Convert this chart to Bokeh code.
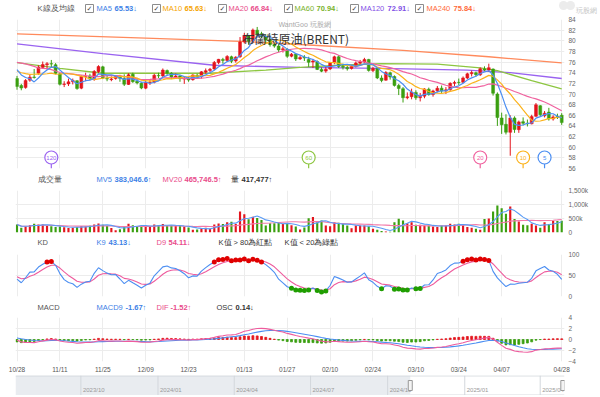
import numpy as np
import pandas as pd
from bokeh.plotting import figure
from bokeh.layouts import column
from bokeh.models import Range1d, FixedTicker, Label, ColumnDataSource
from bokeh.embed import file_html
from bokeh.resources import INLINE
from bokeh.core.properties import value

# ---------------- data ----------------
DATES = [
    "2024-10-28", "2024-10-29", "2024-10-30", "2024-10-31", "2024-11-01", "2024-11-04", "2024-11-05", "2024-11-06", "2024-11-07", "2024-11-08",
    "2024-11-11", "2024-11-12", "2024-11-13", "2024-11-14", "2024-11-15", "2024-11-18", "2024-11-19", "2024-11-20", "2024-11-21", "2024-11-22",
    "2024-11-25", "2024-11-26", "2024-11-27", "2024-11-28", "2024-11-29", "2024-12-02", "2024-12-03", "2024-12-04", "2024-12-05", "2024-12-06",
    "2024-12-09", "2024-12-10", "2024-12-11", "2024-12-12", "2024-12-13", "2024-12-16", "2024-12-17", "2024-12-18", "2024-12-19", "2024-12-20",
    "2024-12-23", "2024-12-24", "2024-12-26", "2024-12-27", "2024-12-30", "2024-12-31", "2025-01-02", "2025-01-03", "2025-01-06", "2025-01-07",
    "2025-01-08", "2025-01-09", "2025-01-10", "2025-01-13", "2025-01-14", "2025-01-15", "2025-01-16", "2025-01-17", "2025-01-20", "2025-01-21",
    "2025-01-22", "2025-01-23", "2025-01-24", "2025-01-27", "2025-01-28", "2025-01-29", "2025-01-30", "2025-01-31", "2025-02-03", "2025-02-04",
    "2025-02-05", "2025-02-06", "2025-02-07", "2025-02-10", "2025-02-11", "2025-02-12", "2025-02-13", "2025-02-14", "2025-02-17", "2025-02-18",
    "2025-02-19", "2025-02-20", "2025-02-21", "2025-02-24", "2025-02-25", "2025-02-26", "2025-02-27", "2025-02-28", "2025-03-03", "2025-03-04",
    "2025-03-05", "2025-03-06", "2025-03-07", "2025-03-10", "2025-03-11", "2025-03-12", "2025-03-13", "2025-03-14", "2025-03-17", "2025-03-18",
    "2025-03-19", "2025-03-20", "2025-03-21", "2025-03-24", "2025-03-25", "2025-03-26", "2025-03-27", "2025-03-28", "2025-03-31", "2025-04-01",
    "2025-04-02", "2025-04-03", "2025-04-04", "2025-04-07", "2025-04-08", "2025-04-09", "2025-04-10", "2025-04-11", "2025-04-14", "2025-04-15",
    "2025-04-16", "2025-04-17", "2025-04-21", "2025-04-22", "2025-04-23", "2025-04-24", "2025-04-25", "2025-04-28",
]
OPEN = [
    72.90, 71.60, 71.20, 72.60, 73.20, 73.90, 75.00, 75.50, 75.70, 75.50,
    73.80, 71.80, 71.90, 72.30, 72.50, 71.10, 73.30, 73.40, 72.90, 74.20,
    75.10, 72.90, 72.70, 72.90, 73.20, 72.90, 71.80, 73.70, 72.40, 72.00,
    71.10, 72.10, 72.20, 73.50, 73.40, 74.40, 73.90, 73.20, 73.40, 72.80,
    72.90, 72.70, 73.50, 73.30, 74.10, 74.40, 74.70, 75.90, 76.50, 76.30,
    77.00, 76.20, 77.00, 79.80, 81.00, 80.00, 82.00, 81.30, 80.80, 80.10,
    79.30, 79.00, 78.30, 78.40, 77.10, 77.50, 76.60, 76.90, 76.50, 76.00,
    76.10, 74.60, 74.30, 74.70, 75.90, 77.00, 75.20, 75.00, 74.80, 75.20,
    75.80, 76.00, 76.50, 74.40, 74.80, 73.00, 72.60, 74.00, 73.30, 71.60,
    71.00, 69.30, 69.50, 70.30, 69.30, 69.60, 70.90, 69.90, 70.60, 71.10,
    70.60, 70.80, 72.00, 72.20, 72.20, 73.00, 73.80, 74.00, 73.60, 74.70,
    74.50, 74.70, 70.00, 65.50, 64.30, 62.80, 65.50, 63.30, 64.80, 64.50,
    64.40, 65.80, 67.80, 65.90, 66.60, 65.30, 65.80, 66.00,
]
HIGH = [
    73.40, 71.90, 72.80, 73.60, 74.70, 75.40, 76.10, 76.00, 76.40, 75.80,
    73.90, 72.40, 72.90, 72.90, 72.60, 73.50, 74.00, 73.80, 74.50, 75.40,
    75.30, 73.40, 73.30, 73.50, 73.60, 73.70, 73.90, 74.00, 72.80, 72.30,
    72.60, 72.70, 73.80, 74.00, 74.80, 74.60, 74.10, 73.90, 73.60, 73.20,
    73.20, 73.70, 73.80, 74.30, 74.80, 74.90, 76.20, 76.60, 76.80, 77.30,
    77.20, 77.10, 80.70, 81.50, 81.10, 82.30, 82.60, 81.70, 81.20, 80.50,
    79.60, 79.40, 78.90, 78.60, 77.70, 77.60, 77.20, 77.30, 77.00, 76.60,
    76.30, 75.00, 75.10, 76.00, 77.20, 77.30, 75.70, 75.30, 75.40, 76.10,
    76.40, 76.80, 76.60, 75.10, 74.90, 73.50, 74.30, 74.20, 73.50, 71.90,
    71.30, 70.30, 71.00, 70.70, 70.20, 71.10, 71.20, 70.80, 71.50, 71.60,
    71.30, 72.20, 72.50, 72.90, 73.30, 74.00, 74.40, 74.20, 75.00, 75.20,
    75.70, 74.80, 70.30, 66.50, 66.20, 66.00, 65.80, 65.00, 65.60, 65.20,
    66.10, 68.30, 67.90, 66.80, 67.40, 66.00, 66.30, 66.40,
]
LOW = [
    70.80, 70.70, 71.00, 72.30, 72.90, 73.60, 74.80, 74.60, 74.90, 73.70,
    71.60, 71.30, 71.50, 71.80, 70.80, 70.90, 72.40, 72.60, 72.50, 73.90,
    72.80, 72.40, 72.40, 72.70, 72.30, 71.50, 71.70, 72.10, 71.80, 70.90,
    70.90, 71.70, 72.00, 73.00, 73.20, 73.60, 72.80, 72.90, 72.30, 71.90,
    72.30, 72.50, 73.00, 72.90, 73.80, 74.10, 74.50, 75.60, 75.70, 76.10,
    75.80, 75.90, 76.80, 79.50, 79.30, 79.60, 80.90, 80.50, 79.50, 78.90,
    78.70, 77.90, 77.80, 76.80, 76.90, 76.20, 76.40, 76.20, 75.10, 74.90,
    74.50, 74.10, 74.00, 74.50, 75.60, 74.90, 74.60, 74.40, 74.60, 75.00,
    75.50, 75.80, 74.20, 74.10, 72.80, 72.20, 72.50, 72.70, 71.40, 69.80,
    68.40, 69.00, 69.00, 68.90, 68.60, 69.20, 69.70, 69.50, 70.30, 70.20,
    70.00, 70.60, 71.50, 71.70, 72.00, 72.80, 73.30, 73.30, 73.40, 74.30,
    74.20, 69.70, 64.00, 62.50, 62.40, 58.40, 62.70, 62.70, 64.10, 63.90,
    64.30, 65.70, 65.80, 65.60, 65.00, 65.00, 65.30, 64.20,
]
CLOSE = [
    71.42, 71.12, 72.55, 73.16, 73.10, 75.08, 75.53, 75.69, 75.63, 73.87,
    71.83, 71.89, 72.28, 72.56, 71.04, 73.30, 73.31, 72.81, 74.23, 75.17,
    73.01, 72.81, 72.83, 73.28, 72.94, 71.83, 73.62, 72.31, 72.09, 71.12,
    72.14, 72.19, 73.52, 73.41, 74.49, 73.91, 73.19, 73.39, 72.88, 72.94,
    72.63, 73.58, 73.26, 74.17, 74.39, 74.64, 75.93, 76.51, 76.30, 77.05,
    76.16, 76.92, 79.76, 81.01, 79.92, 82.03, 81.29, 80.79, 80.15, 79.29,
    79.00, 78.29, 78.50, 77.08, 77.49, 76.58, 76.87, 76.76, 75.96, 76.20,
    74.61, 74.29, 74.66, 75.87, 77.00, 75.18, 75.02, 74.74, 75.22, 75.84,
    76.04, 76.48, 74.43, 74.78, 73.02, 72.53, 74.04, 73.18, 71.62, 71.04,
    69.30, 69.46, 70.36, 69.28, 69.56, 70.95, 69.88, 70.58, 71.07, 70.56,
    70.78, 72.00, 72.16, 72.16, 73.02, 73.79, 74.03, 73.63, 74.74, 74.49,
    74.95, 70.14, 65.58, 64.21, 62.82, 65.48, 63.33, 64.76, 64.50, 64.40,
    65.75, 67.96, 66.10, 66.40, 65.30, 65.70, 65.60, 64.63,
]
VOLUME = [
    285000, 170000, 220000, 260000, 310000, 285000, 285000, 240000, 225000, 200000,
    210000, 190000, 165000, 170000, 200000, 230000, 220000, 240000, 285000, 320000,
    280000, 230000, 160000, 80000, 120000, 230000, 310000, 260000, 210000, 230000,
    240000, 210000, 285000, 270000, 300000, 240000, 250000, 240000, 230000, 210000,
    180000, 100000, 110000, 140000, 170000, 130000, 290000, 320000, 300000, 370000,
    380000, 300000, 750000, 650000, 470000, 560000, 520000, 450000, 250000, 330000,
    330000, 340000, 300000, 330000, 260000, 210000, 110000, 180000, 510000, 550000,
    370000, 430000, 250000, 225000, 370000, 345000, 310000, 250000, 155000, 250000,
    250000, 250000, 225000, 130000, 95000, 50000, 40000, 30000, 370000, 490000,
    430000, 330000, 370000, 275000, 275000, 250000, 250000, 215000, 200000, 250000,
    250000, 310000, 285000, 310000, 260000, 200000, 170000, 130000, 100000, 480000,
    500000, 750000, 965000, 870000, 670000, 930000, 479697, 390000, 275000, 260000,
    310000, 250000, 170000, 370000, 300000, 420000, 407756, 417477,
]
# closes before the visible window (warm-up for the moving averages / MACD)
HIST_CLOSE = [
    73.75, 72.70, 72.69, 71.06, 71.84, 69.19, 70.61, 71.97, 71.61, 72.75,
    73.70, 73.65, 74.88, 74.49, 75.17, 75.17, 73.46, 71.60, 71.98, 71.77,
    73.56, 75.81, 77.62, 78.05, 80.93, 77.18, 76.58, 79.40, 79.04, 77.46,
    74.25, 74.22, 74.45, 73.06, 74.29, 76.04, 74.96, 74.38, 76.05,
]
# long moving averages (bar index -> value)
MA60_AT = [0, 10, 20, 45, 58, 66, 75, 85, 98, 108, 112, 120, 127]
MA60_VAL = [75.9, 74.8, 73.9, 73.9, 74.5, 75.0, 75.4, 75.7, 75.6, 74.9, 74.4, 72.5, 70.94]
MA120_AT = [0, 20, 46, 66, 85, 105, 115, 127]
MA120_VAL = [79.4, 77.6, 75.4, 75.0, 74.8, 74.5, 74.0, 72.91]
MA240_AT = [0, 30, 52, 66, 90, 110, 127]
MA240_VAL = [81.3, 80.5, 79.9, 79.3, 78.2, 77.0, 75.84]
# indicator read-outs shown in the panel headers of the picture
KD_READ = ["43.13↓", "54.11↓"]
MACD_READ = ["-1.67↑", "-1.52↑", "0.14↓"]

PRICE_TICKS = [56, 58, 60, 62, 64, 66, 68, 70, 72, 74, 76, 78, 80, 82, 84]
VOL_TICKS = [0, 500000, 1000000, 1500000]
VOL_TICK_LABELS = ["0", "500k", "1,000k", "1,500k"]
KD_TICKS = [0, 50, 100]
MACD_TICKS = [-4, -2, 0, 2, 4]
TICK_DATES = ["2024-10-28", "2024-11-11", "2024-11-25", "2024-12-09", "2024-12-23", "2025-01-13", "2025-01-27",
              "2025-02-10", "2025-02-24", "2025-03-10", "2025-03-24", "2025-04-07", "2025-04-28"]
NAV_QUARTERS = ["2023-10-01", "2024-01-01", "2024-04-01", "2024-07-01", "2024-10-01", "2025-01-01", "2025-04-01"]
NAV_LABELS = ["2023/10", "2024/01", "2024/04", "2024/07", "2024/10", "2025/01", "2025/04"]
NAV_RANGE = ["2023-07-15", "2025-04-30"]
PIN_PERIODS = [120, 60, 20, 10, 5]

# ---------------- derived series ----------------
N = len(DATES)
idx = np.arange(N)
o = np.array(OPEN); h = np.array(HIGH); l = np.array(LOW); c = np.array(CLOSE)
vol = np.array(VOLUME, dtype=float)

closes_all = pd.Series(HIST_CLOSE + CLOSE, dtype=float)
def sma(n):
    return closes_all.rolling(n, min_periods=1).mean().to_numpy()[-N:]
ma5, ma10, ma20 = sma(5), sma(10), sma(20)

vs = pd.Series(vol)
mv5 = vs.rolling(5, min_periods=1).mean().to_numpy()
mv20 = vs.rolling(20, min_periods=1).mean().to_numpy()

hh = pd.Series(h).rolling(9, min_periods=1).max().to_numpy()
ll = pd.Series(l).rolling(9, min_periods=1).min().to_numpy()
rsv = (c - ll) / (hh - ll) * 100
K = np.zeros(N); D = np.zeros(N)
kp = dp = 50.0
for i in range(N):
    kp = kp * 2 / 3 + rsv[i] / 3
    dp = dp * 2 / 3 + kp / 3
    K[i] = kp; D[i] = dp

ema12 = closes_all.ewm(span=12, adjust=False).mean()
ema26 = closes_all.ewm(span=26, adjust=False).mean()
dif_all = ema12 - ema26
macd_all = dif_all.ewm(span=9, adjust=False).mean()
dif = dif_all.to_numpy()[-N:]
macd = macd_all.to_numpy()[-N:]
osc = dif - macd

def arrow(a):
    return "↑" if a[-1] >= a[-2] else "↓"

# ---------------- style / layout ----------------
FONT = "Liberation Sans"
HF = "7.5px"
UP, DN = "#e3151d", "#3a9f10"
MA_COL = {5: "#4b8ef2", 10: "#fbb21b", 20: "#f0629f", 60: "#8dc641", 120: "#9a63f0", 240: "#ff8a5c"}
TXT_COL = {5: "#3d7fe6", 10: "#f5a300", 20: "#e94b8a", 60: "#78b22a", 120: "#7f50e6", 240: "#ff6a3a"}
GRID = "#ececec"
AXC = "#666666"
TOTAL_W = 600
W_FRAME, B_LEFT = 549, 15
B_RIGHT = TOTAL_W - W_FRAME - B_LEFT
X0, X1 = -0.35, N - 0.35
PXU = (X1 - X0) / W_FRAME
def xpx(page_x):
    return X0 + (page_x - B_LEFT) * PXU

xr = Range1d(X0, X1)
tick_idx = [DATES.index(d) for d in TICK_DATES]
tick_lbl = {i: DATES[i][5:7] + "/" + DATES[i][8:10] for i in tick_idx}

def bare(fig):
    fig.xgrid.visible = False
    fig.ygrid.visible = False
    return fig

def header(hpx):
    p = figure(frame_width=TOTAL_W, frame_height=hpx, x_range=Range1d(0, TOTAL_W), y_range=Range1d(0, hpx),
               output_backend="svg", toolbar_location=None, tools="",
               x_axis_location=None, y_axis_location=None, min_border=0,
               outline_line_color=None, background_fill_color="white", border_fill_color="white")
    return bare(p)

def hl(p, x, y_top, text, color, size=HF, bold=False, font=FONT, align="left"):
    hpx = p.y_range.end
    p.add_layout(Label(x=x, y=hpx - y_top, text=text, text_color=color, text_font_size=size,
                       text_font_style="bold" if bold else "normal", text_font=font,
                       text_align=align, text_baseline="middle"))

def panel(frame_h, top, bottom, y0, y1, ticks, overrides=None, x_axis=False):
    p = figure(frame_width=W_FRAME, frame_height=frame_h, x_range=xr, y_range=Range1d(y0, y1),
               output_backend="svg", toolbar_location=None, tools="",
               x_axis_location="below" if x_axis else None, y_axis_location="right",
               min_border=0, min_border_left=B_LEFT, min_border_right=B_RIGHT,
               min_border_top=top, min_border_bottom=bottom,
               outline_line_color=None, background_fill_color="white", border_fill_color="white")
    ya = p.yaxis[0]
    ya.ticker = FixedTicker(ticks=ticks)
    if overrides:
        ya.major_label_overrides = overrides
    ya.axis_line_color = None
    ya.major_tick_line_color = None
    ya.minor_tick_line_color = None
    ya.major_tick_out = 0
    ya.major_tick_in = 0
    ya.minor_tick_out = 0
    ya.major_label_text_font_size = "6.5px"
    ya.major_label_text_color = AXC
    ya.major_label_text_font = FONT
    ya.major_label_standoff = 4
    p.ygrid.grid_line_color = GRID
    p.xgrid.ticker = FixedTicker(ticks=tick_idx)
    p.xgrid.grid_line_color = GRID
    if x_axis:
        xa = p.xaxis[0]
        xa.ticker = FixedTicker(ticks=tick_idx)
        xa.major_label_overrides = tick_lbl
        xa.axis_line_color = None
        xa.major_tick_line_color = None
        xa.minor_tick_line_color = None
        xa.major_tick_out = 0
        xa.major_tick_in = 0
        xa.minor_tick_out = 0
        xa.major_label_text_font_size = "6.5px"
        xa.major_label_text_color = "#555555"
        xa.major_label_text_font = FONT
        xa.major_label_standoff = 4
    return p

def lab(p, page_x, y, text, color, size="8px", font=FONT):
    p.add_layout(Label(x=xpx(page_x), y=y, text=text, text_color=color, text_font_size=size,
                       text_font=font, text_align="left", text_baseline="middle"))

# ---------------- header: K line & MAs ----------------
h1 = header(15)
hl(h1, 22, 8, "K線及均線", "#555555")
leg_pos = {5: (70, 81, 99), 10: (137, 147, 169), 20: (203, 213, 235), 60: (269, 279, 301), 120: (335, 345, 372), 240: (400, 411, 438)}
short_vals = {5: ma5, 10: ma10, 20: ma20}
long_vals = {60: MA60_VAL, 120: MA120_VAL, 240: MA240_VAL}
for n in [5, 10, 20, 60, 120, 240]:
    cb, tx, vx = leg_pos[n]
    arr = long_vals.get(n, short_vals.get(n))
    vtxt = f"{arr[-1]:.2f}" + ("↑" if arr[-1] >= arr[-2] else "↓")
    h1.scatter(x=[cb + 4], y=[7], marker="square", size=8, fill_color="white", line_color="#8c8c8c", line_width=1)
    hl(h1, cb + 4, 8, "✓", "#444444", size="7px", font="DejaVu Sans", align="center")
    hl(h1, tx, 8, f"MA{n}", TXT_COL[n])
    hl(h1, vx, 8, vtxt, TXT_COL[n], bold=True)
h1.scatter(x=[548, 555], y=[10, 10], marker="circle", size=9, fill_color="#ececec", line_color=None)
hl(h1, 560, 10, "玩股網", "#c4c4c4", size="6.5px")

# ---------------- price panel ----------------
PPY1 = 28 / 149
p1 = panel(149, 4, 4, 56, 84, PRICE_TICKS)
col = [UP if cc >= oo else DN for oo, cc in zip(o, c)]
src = ColumnDataSource(dict(x=idx, h=h, l=l, top=np.maximum(o, c), bot=np.minimum(o, c), color=col))
p1.line(MA240_AT, MA240_VAL, line_color=MA_COL[240], line_width=1.3)
p1.line(MA120_AT, MA120_VAL, line_color=MA_COL[120], line_width=1.3)
p1.line(MA60_AT, MA60_VAL, line_color=MA_COL[60], line_width=1.3)
p1.segment(x0="x", y0="h", x1="x", y1="l", line_color="color", line_width=1, source=src)
p1.vbar(x="x", top="top", bottom="bot", width=0.68, fill_color="color", line_color="color", line_width=0.5, source=src)
p1.line(idx, ma20, line_color=MA_COL[20], line_width=1.2)
p1.line(idx, ma10, line_color=MA_COL[10], line_width=1.2)
p1.line(idx, ma5, line_color=MA_COL[5], line_width=1.2)

pin_x = [N - n for n in PIN_PERIODS]
pin_c = [MA_COL[n] for n in PIN_PERIODS]
pin_y = 56 + 11 * PPY1
p1.segment(x0=pin_x, y0=[56] * 5, x1=pin_x, y1=[pin_y - 6 * PPY1] * 5, line_color=pin_c, line_width=1.2)
p1.scatter(x=pin_x, y=[pin_y] * 5, marker="circle", size=13, fill_color="white", line_color=pin_c, line_width=1.2)
p1.text(x=pin_x, y=[pin_y] * 5, text=[str(n) for n in PIN_PERIODS], text_color=pin_c, text_font_size="6px",
        text_align="center", text_baseline="middle", text_font=value(FONT))
lab(p1, 278, 84 - 5 * PPY1, "WantGoo 玩股網", "#a8a8a8", size="7px")
lab(p1, 242, 84 - 19 * PPY1, "布蘭特原油(BRENT)", "#333333", size="12px", font="Noto Sans CJK TC")

# ---------------- volume ----------------
h2 = header(14)
hl(h2, 22, 6.5, "成交量", "#555555")
hl(h2, 81, 6.5, "MV5", TXT_COL[5])
hl(h2, 99, 6.5, f"{mv5[-1]:,.1f}" + arrow(mv5), TXT_COL[5], bold=True)
hl(h2, 147, 6.5, "MV20", TXT_COL[20])
hl(h2, 169, 6.5, f"{mv20[-1]:,.1f}" + arrow(mv20), TXT_COL[20], bold=True)
hl(h2, 215, 6.5, "量", "#333333")
hl(h2, 226, 6.5, f"{int(vol[-1]):,}" + arrow(vol), "#333333", bold=True)

p2 = panel(42, 4, 4, 0, 1500000, VOL_TICKS, overrides=dict(zip(VOL_TICKS, VOL_TICK_LABELS)))
p2.vbar(x=idx, top=vol, bottom=0, width=0.5, fill_color=col, line_color=None)
p2.line(idx, mv20, line_color="#f27aa9", line_width=1.1)
p2.line(idx, mv5, line_color="#5a9cf6", line_width=1.1)

# ---------------- KD ----------------
h3 = header(14)
hl(h3, 22, 6, "KD", "#555555")
hl(h3, 81, 6, "K9", TXT_COL[5])
hl(h3, 93, 6, KD_READ[0], TXT_COL[5], bold=True)
hl(h3, 141, 6, "D9", TXT_COL[20])
hl(h3, 153, 6, KD_READ[1], TXT_COL[20], bold=True)
hl(h3, 203, 6, "K值 > 80為紅點", "#333333")
hl(h3, 269, 6, "K值 < 20為綠點", "#333333")

p3 = panel(42, 4, 4, 0, 100, KD_TICKS)
p3.line(idx, D, line_color="#ee5b9d", line_width=1.1)
p3.line(idx, K, line_color="#4b8ef2", line_width=1.1)
hi_m = K > 80
lo_m = K < 20
p3.scatter(idx[hi_m], K[hi_m], marker="circle", size=5, fill_color="#e00000", line_color=None)
p3.scatter(idx[lo_m], K[lo_m], marker="circle", size=5, fill_color="#1f9e00", line_color=None)

# ---------------- MACD ----------------
h4 = header(13)
hl(h4, 22, 7, "MACD", "#555555")
hl(h4, 81, 7, "MACD9", TXT_COL[5])
hl(h4, 110, 7, MACD_READ[0], TXT_COL[5], bold=True)
hl(h4, 141, 7, "DIF", TXT_COL[20])
hl(h4, 155, 7, MACD_READ[1], TXT_COL[20], bold=True)
hl(h4, 201, 7, "OSC", "#333333")
hl(h4, 220, 7, MACD_READ[2], "#333333", bold=True)

p4 = panel(44, 4, 14, -4, 4, MACD_TICKS, x_axis=True)
osc_col = [UP if v >= 0 else DN for v in osc]
p4.vbar(x=idx, top=osc, bottom=0, width=0.45, fill_color=osc_col, line_color=osc_col, line_width=0.8)
p4.line(idx, macd, line_color="#4b8ef2", line_width=1.1)
p4.line(idx, dif, line_color="#ee5b9d", line_width=1.1)

# ---------------- navigator ----------------
def ms(d):
    return pd.Timestamp(d).value / 1e6
ns, ne = ms(NAV_RANGE[0]), ms(NAV_RANGE[1])
p5 = figure(frame_width=W_FRAME, frame_height=20, x_range=Range1d(ns, ne), y_range=Range1d(0, 1),
            output_backend="svg", toolbar_location=None, tools="",
            x_axis_location=None, y_axis_location=None,
            min_border=0, min_border_left=B_LEFT, min_border_right=B_RIGHT,
            outline_line_color=None, background_fill_color="white", border_fill_color="white")
bare(p5)
ws, we = ms(DATES[0]), ms(DATES[-1])
p5.quad(left=[ns], right=[ws], bottom=[0], top=[1], fill_color="#e9ecf0", line_color=None)
qx = [ms(d) for d in NAV_QUARTERS]
p5.segment(x0=qx, y0=[0] * len(qx), x1=qx, y1=[1] * len(qx), line_color="#d3d7dc", line_width=1)
p5.segment(x0=[ns], y0=[0.98], x1=[ne], y1=[0.98], line_color="#cfd3d8", line_width=1)
p5.segment(x0=[ws], y0=[0.02], x1=[ne], y1=[0.02], line_color="#cfd3d8", line_width=1)
p5.text(x=qx, y=[0.3] * len(qx), text=NAV_LABELS, text_font_size="6px", text_color="#9a9a9a",
        x_offset=2, text_baseline="middle", text_font=value(FONT))
p5.rect(x=[ws, we], y=[0.5, 0.5], width=4, height=10, width_units="screen", height_units="screen",
        fill_color="#f4f4f4", line_color="#999999", line_width=1)

layout = column(h1, p1, h2, p2, h3, p3, h4, p4, p5, spacing=0)
open("out.html", "w").write(file_html(layout, INLINE))
